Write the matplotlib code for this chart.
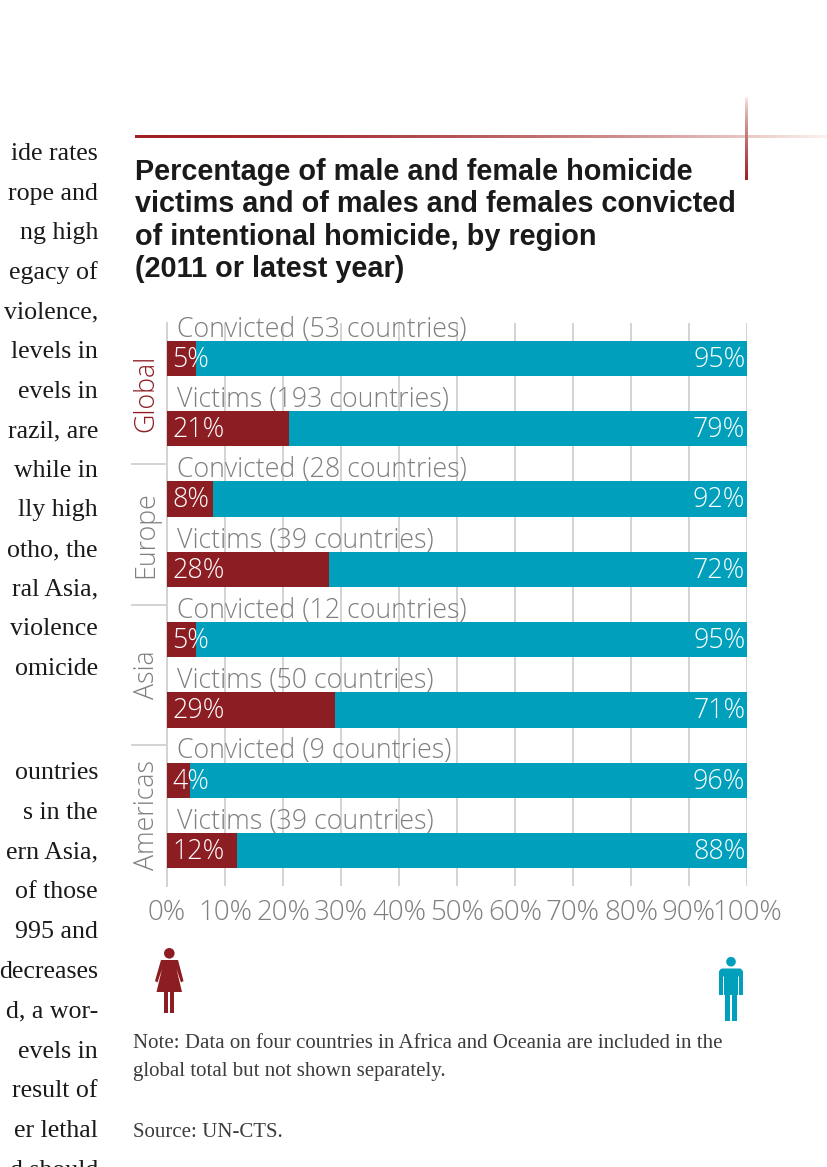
import matplotlib
matplotlib.use("Agg")
import matplotlib.pyplot as plt
import numpy as np
from matplotlib.patches import Circle, Polygon, Rectangle, FancyBboxPatch
import matplotlib.transforms as mtransforms

# ---------------- data ----------------
regions = ["Global", "Europe", "Asia", "Americas"]
bar_labels = ["Convicted (53 countries)", "Victims (193 countries)",
              "Convicted (28 countries)", "Victims (39 countries)",
              "Convicted (12 countries)", "Victims (50 countries)",
              "Convicted (9 countries)", "Victims (39 countries)"]
female_pct = [5, 21, 8, 28, 5, 29, 4, 12]
male_pct = [95, 79, 92, 72, 95, 71, 96, 88]
tick_values = [0, 10, 20, 30, 40, 50, 60, 70, 80, 90, 100]
tick_labels = ["0%", "10%", "20%", "30%", "40%", "50%", "60%", "70%", "80%", "90%", "100%"]

title_lines = ["Percentage of male and female homicide",
               "victims and of males and females convicted",
               "of intentional homicide, by region",
               "(2011 or latest year)"]
body_top = ["ide rates", "rope and", "ng high", "egacy of", "violence,",
            "levels in", "evels in", "razil, are", "while in", "lly high",
            "otho, the", "ral Asia,", "violence", "omicide"]
body_bottom = ["ountries", "s in the", "ern Asia,", "of those", "995 and",
               "decreases", "d, a wor-", "evels in", "result of", "er lethal",
               "d should"]
note_lines = ["Note: Data on four countries in Africa and Oceania are included in the",
              "global total but not shown separately."]
source_line = "Source: UN-CTS."

RED = "#8C1D23"
TEAL = "#00A0BC"
GRAY = "#7F7F7F"
GRID = "#D3D3D3"
SANS = ["Open Sans", "DejaVu Sans"]
SERIF = ["Liberation Serif", "DejaVu Serif"]
LW = "light"
FS = 19.3

W, H = 828, 1167
fig = plt.figure(figsize=(W / 100, H / 100), dpi=100)
fig.patch.set_facecolor("white")

# overlay in pixel coordinates for page furniture
ov = fig.add_axes([0, 0, 1, 1], zorder=0)
ov.set_xlim(0, W)
ov.set_ylim(H, 0)
ov.axis("off")

# ---------------- main chart ----------------
x0, x1, yt, yb = 167, 747, 323, 886
ax = fig.add_axes([x0 / W, 1 - yb / H, (x1 - x0) / W, (yb - yt) / H], zorder=2)
ax.patch.set_alpha(0)
pos = np.arange(len(bar_labels))
bh = 0.5
ax.barh(pos, female_pct, height=bh, color=RED, zorder=3)
ax.barh(pos, male_pct, left=female_pct, height=bh, color=TEAL, zorder=3)
ax.set_xlim(0, 100)
ax.set_ylim(len(bar_labels) - 0.495, -0.505)
ax.set_xticks(tick_values)
ax.set_xticklabels(tick_labels)
ax.tick_params(axis="x", length=0, pad=9, labelsize=20, labelcolor=GRAY)
for lab in ax.get_xticklabels():
    lab.set_fontfamily(SANS)
    lab.set_fontweight(LW)
ax.set_yticks([])
ax.grid(axis="x", color=GRID, lw=1.4, zorder=0)
for s in ["top", "right", "bottom"]:
    ax.spines[s].set_visible(False)
ax.spines["left"].set_color(GRID)
ax.spines["left"].set_linewidth(1.4)

for i, (lab, f, m) in enumerate(zip(bar_labels, female_pct, male_pct)):
    ax.text(1.8, i - bh / 2 - 0.06, lab, ha="left", va="baseline",
            fontsize=FS, color=GRAY, family=SANS, fontweight=LW, zorder=4)
    ax.text(0.9, i + 0.02, f"{f}%", ha="left", va="center",
            fontsize=FS, color="white", family=SANS, fontweight=LW, zorder=5)
    ax.text(99.7, i + 0.02, f"{m}%", ha="right", va="center",
            fontsize=FS, color="white", family=SANS, fontweight=LW, zorder=5)

trans = mtransforms.blended_transform_factory(ax.transAxes, ax.transData)
for k, reg in enumerate(regions):
    yc = 2 * k + 0.5
    ax.text(-0.035, yc, reg, rotation=90, ha="center", va="center",
            fontsize=FS, color=RED if k == 0 else GRAY, family=SANS,
            fontweight=LW, transform=trans, clip_on=False)
    if k > 0:
        ax.plot([-0.06, 0], [2 * k - 0.5, 2 * k - 0.5], color=GRID, lw=1.4,
                transform=trans, clip_on=False)

# ---------------- decorative gradient rules ----------------
c0 = np.array([0.62, 0.13, 0.15])
c1 = np.array([0.99, 0.95, 0.93])
tt = np.linspace(0, 1, 400)
grad_h = np.zeros((1, 400, 3))
for j, v in enumerate(tt):
    grad_h[0, j] = c0 + (c1 - c0) * (v ** 1.8)
ov.imshow(grad_h, extent=(135, 828, 138.3, 135.9), aspect="auto",
          interpolation="bilinear", zorder=1)
grad_v = np.zeros((400, 1, 3))
for j, v in enumerate(tt):
    grad_v[j, 0] = c1 + (c0 - c1) * (v ** 0.7)
ov.imshow(grad_v, extent=(745, 747.2, 180, 97), aspect="auto",
          interpolation="bilinear", zorder=1)
ov.set_xlim(0, W)
ov.set_ylim(H, 0)

# ---------------- title ----------------
for k, line in enumerate(title_lines):
    ov.text(135, 180 + k * 32.3, line, ha="left", va="baseline", fontsize=20.8,
            fontweight="bold", color="#1a1a1a", family=["Liberation Sans", "DejaVu Sans"])

# ---------------- left body text (cut off column) ----------------
for k, line in enumerate(body_top):
    ov.text(98, 160 + k * 39.6, line, ha="right", va="baseline", fontsize=18.6,
            color="#1a1a1a", family=SERIF)
for k, line in enumerate(body_bottom):
    ov.text(98, 779 + k * 39.8, line, ha="right", va="baseline", fontsize=18.6,
            color="#1a1a1a", family=SERIF)

# ---------------- icons ----------------
ov.add_patch(Circle((169.3, 953.3), 5.3, color=RED, lw=0))
ov.add_patch(Polygon([(161, 960), (178, 960), (183.5, 981), (181, 982.5), (176.5, 969),
                      (182, 992), (156.5, 992), (162, 969), (157.5, 982.5), (155, 981)],
                     closed=True, color=RED, lw=0))
ov.add_patch(Rectangle((164.3, 991), 4, 22, color=RED, lw=0))
ov.add_patch(Rectangle((170.5, 991), 4, 22, color=RED, lw=0))

ov.add_patch(Circle((731, 961.7), 4.8, color=TEAL, lw=0))
ov.add_patch(FancyBboxPatch((719.5, 968.5), 23, 8, boxstyle="round,pad=0,rounding_size=3",
                            color=TEAL, lw=0))
ov.add_patch(Rectangle((723.8, 970), 14.5, 24.5, color=TEAL, lw=0))
ov.add_patch(Rectangle((718.8, 971), 3.8, 24, color=TEAL, lw=0))
ov.add_patch(Rectangle((739.5, 971), 3.8, 24, color=TEAL, lw=0))
ov.add_patch(Rectangle((724.8, 993), 5.3, 28, color=TEAL, lw=0))
ov.add_patch(Rectangle((731.6, 993), 5.3, 28, color=TEAL, lw=0))

# ---------------- note and source ----------------
for k, line in enumerate(note_lines):
    ov.text(133, 1048 + k * 28, line, ha="left", va="baseline", fontsize=15.0,
            color="#3c3c3c", family=SERIF)
ov.text(133, 1137, source_line, ha="left", va="baseline", fontsize=15.0,
        color="#3c3c3c", family=SERIF)

fig.savefig("out.png", dpi=100)
